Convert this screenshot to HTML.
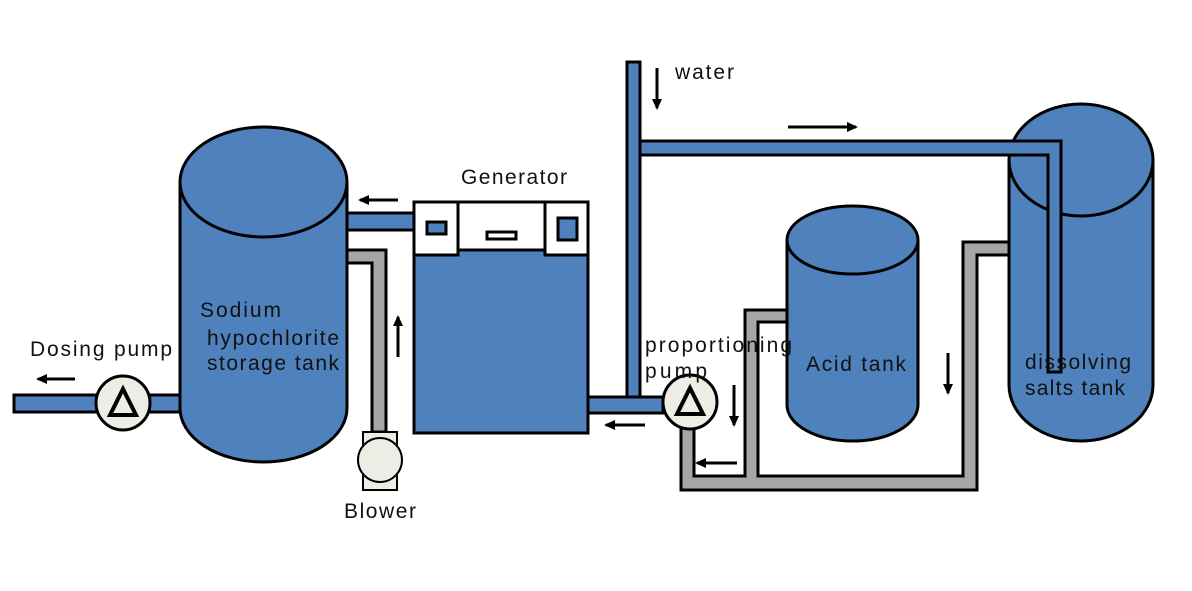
<!DOCTYPE html>
<html><head><style>body{margin:0;background:#fff}svg{display:block}text{font-family:"Liberation Sans",sans-serif;font-size:21px;fill:#111}</style></head>
<body>
<svg width="1192" height="591" viewBox="0 0 1192 591" xmlns="http://www.w3.org/2000/svg">
<defs><marker id="a" markerWidth="12" markerHeight="12" refX="9" refY="5" orient="auto" markerUnits="userSpaceOnUse"><path d="M0,0 L11,5 L0,10 Z" fill="#000"/></marker></defs>
<g stroke="#000" stroke-width="3">
<path d="M180,182 L180,408 A83.5,54 0 0 0 347,408 L347,182" fill="#4f81bd"/>
<ellipse cx="263.5" cy="182" rx="83.5" ry="55" fill="#4f81bd"/>
<rect x="14" y="395" width="166" height="17" fill="#4f81bd"/>
<circle cx="123" cy="403" r="27" fill="#eeede5"/>
<path d="M110,415 L123,389 L136,415 Z" fill="none" stroke-width="4"/>
<rect x="347" y="213" width="67" height="17" fill="#4f81bd"/>
<path d="M347,250 L386,250 L386,432 L372,432 L372,263 L347,263 Z" fill="#a6a6a6"/>
<rect x="363" y="432" width="34" height="58" fill="#eeede5" stroke-width="2"/>
<circle cx="380" cy="460" r="22" fill="#eeede5" stroke-width="2"/>
<rect x="414" y="202" width="174" height="231" fill="#4f81bd"/>
<rect x="414" y="202" width="44" height="53" fill="#fff"/>
<rect x="545" y="202" width="43" height="53" fill="#fff"/>
<rect x="458" y="202" width="87" height="48" fill="#fff"/>
<rect x="427" y="222" width="19" height="12" fill="#4f81bd"/>
<rect x="487" y="232" width="29" height="7" fill="#fff"/>
<rect x="558" y="218" width="19" height="22" fill="#4f81bd"/>
<rect x="627" y="62" width="13" height="351" fill="#4f81bd"/>
<rect x="588" y="397" width="75" height="16" fill="#4f81bd"/>
<path d="M681,428 L694,428 L694,476 L745,476 L745,310 L790,310 L790,322 L758,322 L758,476 L963,476 L963,242 L1010,242 L1010,255 L977,255 L977,490 L681,490 Z" fill="#a6a6a6"/>
<circle cx="690" cy="402" r="27" fill="#eeede5"/>
<path d="M677,414 L690,388 L703,414 Z" fill="none" stroke-width="4"/>
<path d="M787,240 L787,405 A65.5,36 0 0 0 918,405 L918,240" fill="#4f81bd"/>
<ellipse cx="852.5" cy="240" rx="65.5" ry="34" fill="#4f81bd"/>
<path d="M1009,160 L1009,385 A72,56 0 0 0 1153,385 L1153,160" fill="#4f81bd"/>
<ellipse cx="1081" cy="160" rx="72" ry="56" fill="#4f81bd"/>
<path d="M640,141 L1061,141 L1061,372 L1048,372 L1048,155 L640,155 Z" fill="#4f81bd"/>
</g>
<g stroke="#000" stroke-width="3" marker-end="url(#a)">
<line x1="75" y1="379" x2="38" y2="379"/>
<line x1="398" y1="200" x2="360" y2="200"/>
<line x1="398" y1="357" x2="398" y2="317"/>
<line x1="657" y1="68" x2="657" y2="108"/>
<line x1="788" y1="127" x2="856" y2="127"/>
<line x1="645" y1="425" x2="606" y2="425"/>
<line x1="734" y1="385" x2="734" y2="425"/>
<line x1="737" y1="463" x2="697" y2="463"/>
<line x1="948" y1="353" x2="948" y2="393"/>
</g>
<text x="30" y="356" textLength="142">Dosing pump</text>
<text x="200" y="317" textLength="81">Sodium</text>
<text x="207" y="345" textLength="132">hypochlorite</text>
<text x="207" y="370" textLength="132">storage tank</text>
<text x="344" y="518" textLength="72">Blower</text>
<text x="461" y="184" textLength="106">Generator</text>
<text x="675" y="79" textLength="59">water</text>
<text x="645" y="352" textLength="147">proportioning</text>
<text x="645" y="378" textLength="62">pump</text>
<text x="806" y="371" textLength="100">Acid tank</text>
<text x="1025" y="369" textLength="106">dissolving</text>
<text x="1025" y="395" textLength="100">salts tank</text>
</svg>
</body></html>
